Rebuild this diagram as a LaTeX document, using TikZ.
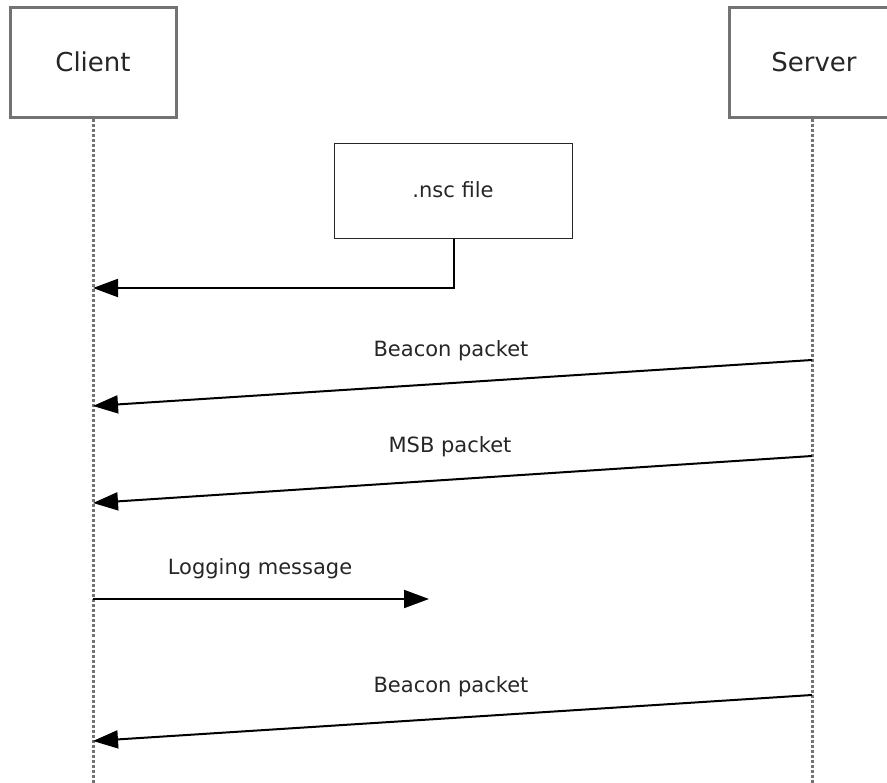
\documentclass[tikz,border=0pt]{standalone}
\usepackage{fontspec}
\setmainfont{DejaVu Sans}
\usetikzlibrary{arrows.meta,positioning}

\tikzset{
	actor/.style={draw=black!55,line width=3pt,minimum width=166pt,minimum height=110pt,inner sep=0pt,font=\fontsize{26}{30}\selectfont,text=black!85},
	filebox/.style={draw=black!85,line width=1.8pt,minimum width=238pt,minimum height=95pt,inner sep=0pt,font=\fontsize{21}{25}\selectfont,text=black!85},
	lifeline/.style={draw=black!55,line width=3pt,dash pattern=on 3pt off 2pt},
	msg/.style={draw=black,line width=2pt,-{Triangle[length=25pt,width=18pt]}},
	msglabel/.style={anchor=base,font=\fontsize{21}{25}\selectfont,text=black!85,inner sep=0pt},
}

\begin{document}
\begin{tikzpicture}[x=1pt,y=-1pt]
	\clip (0,0) rectangle (887,783);
	\useasboundingbox (0,0) rectangle (887,783);
	% actors
	\node[actor] (client) at (93,63) {};
	\node[actor] (server) at (812,63) {};
	\node[anchor=base,font=\fontsize{26}{30}\selectfont,text=black!85] (clienttext) at (93,72) {Client};
	\node[anchor=base,font=\fontsize{26}{30}\selectfont,text=black!85] (servertext) at (814,72) {Server};
	\coordinate (clientend) at (93,790);
	\coordinate (serverend) at (812,790);
	\draw[lifeline] (client.south) -- (clientend);
	\draw[lifeline] (server.south) -- (serverend);
	% file
	\node[filebox] (nscfile) at (453.5,191) {};
	\node[msglabel] (nsctext) at (453,198) {.nsc file};
	\coordinate (c1) at (93,288);
	\draw[msg] (nscfile.south) |- (c1);
	% messages
	\coordinate (s1) at (812,360);
	\coordinate (c2) at (93,406);
	\draw[msg] (s1) -- (c2);
	\node[msglabel] (beacon1) at (451,357) {Beacon packet};
	\coordinate (s2) at (812,456);
	\coordinate (c3) at (93,503);
	\draw[msg] (s2) -- (c3);
	\node[msglabel] (msb) at (450,453) {MSB packet};
	\coordinate (c4) at (93,599);
	\coordinate (m4) at (429,599);
	\draw[msg] (c4) -- (m4);
	\node[msglabel] (logging) at (260,575) {Logging message};
	\coordinate (s5) at (812,695);
	\coordinate (c5) at (93,741);
	\draw[msg] (s5) -- (c5);
	\node[msglabel] (beacon2) at (451,692) {Beacon packet};
\end{tikzpicture}
\end{document}
